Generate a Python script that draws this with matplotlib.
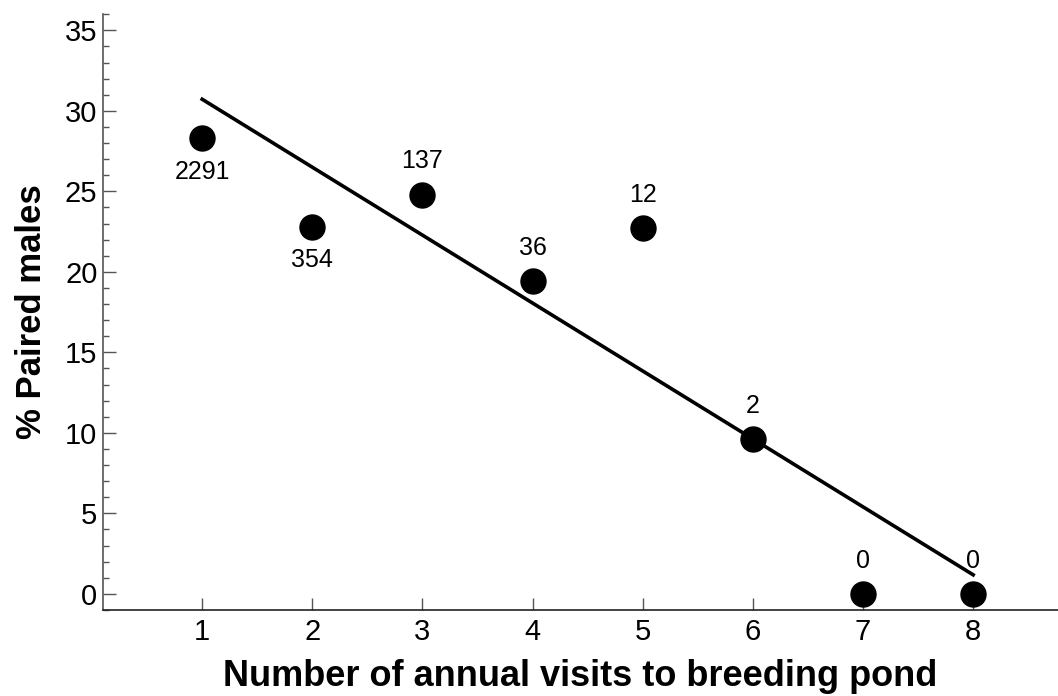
import numpy as np
import matplotlib.pyplot as plt
from matplotlib.ticker import MultipleLocator

plt.rcParams['font.family'] = ['Liberation Sans', 'DejaVu Sans']

# data
visits = [1, 2, 3, 4, 5, 6, 7, 8]
paired = [28.3, 22.8, 24.8, 19.4, 22.7, 9.6, 0.0, 0.0]
n_males = ['2291', '354', '137', '36', '12', '2', '0', '0']
label_below = [True, True, False, False, False, False, False, False]

fig = plt.figure(figsize=(10.58, 6.96), dpi=100)
ax = fig.add_axes([0.0974, 0.1236, 0.9026, 0.856])

# least squares line through the points
slope, icept = np.polyfit(visits, paired, 1)
xs = np.array([visits[0], visits[-1]])
ax.plot(xs, slope * xs + icept, color='black', lw=2.6, zorder=2)

ax.plot(visits, paired, 'o', color='black', ms=18, zorder=3, clip_on=False)

for x, y, s, below in zip(visits, paired, n_males, label_below):
    off = -24 if below else 24
    ax.annotate(s, (x, y), xytext=(0, off), textcoords='offset points',
                ha='center', va='center', fontsize=18)

ax.set_xlim(0.1, 8.77)
ax.set_ylim(-1, 36)
ax.set_xticks(visits)
ax.yaxis.set_major_locator(MultipleLocator(5))
ax.yaxis.set_minor_locator(MultipleLocator(1))

for side in ['top', 'right']:
    ax.spines[side].set_visible(False)
ax.spines['left'].set_color('#555555')
ax.spines['bottom'].set_color('#222222')
ax.spines['left'].set_linewidth(1.2)
ax.spines['bottom'].set_linewidth(1.2)

ax.tick_params(axis='both', which='major', direction='in', length=9, width=1,
               color='#555555', labelsize=21)
ax.tick_params(axis='y', which='major', pad=4)
ax.tick_params(axis='x', which='major', pad=6)
ax.tick_params(axis='y', which='minor', direction='in', length=4.5, width=1,
               color='#555555')

ax.set_xlabel('Number of annual visits to breeding pond', fontsize=26,
              fontweight='bold', labelpad=9)
ax.set_ylabel('% Paired males', fontsize=25, fontweight='bold', labelpad=12)

fig.savefig('out.png', dpi=100)
